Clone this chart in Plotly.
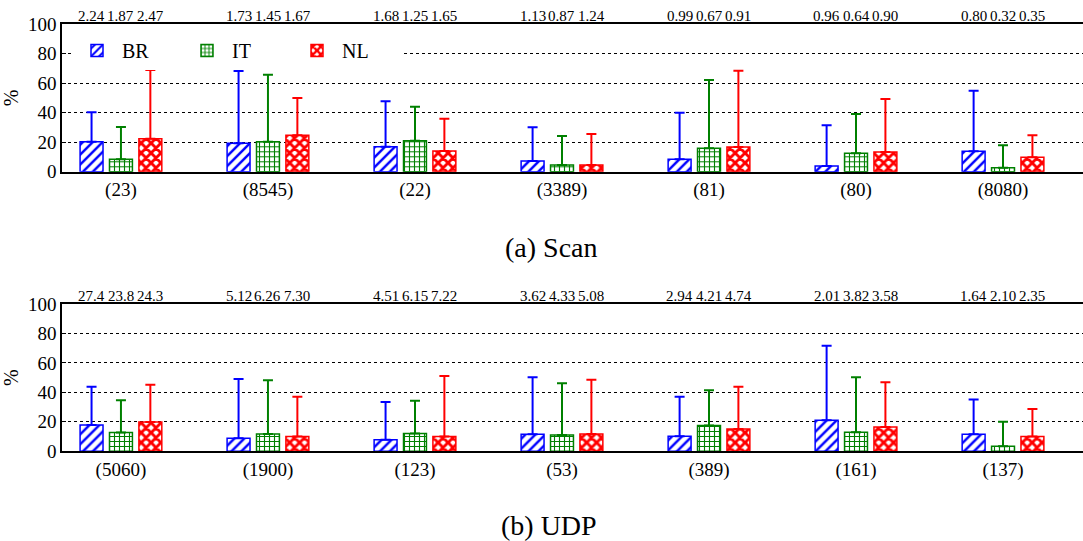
import plotly.graph_objects as go
import numpy as np

series = ["BR", "IT", "NL"]
colors = {"BR": "#0000ff", "IT": "#008000", "NL": "#ff0000"}
patterns = {"BR": dict(shape="/", size=7, solidity=0.35),
            "IT": dict(shape="+", size=5, solidity=0.4),
            "NL": dict(shape="x", size=7, solidity=0.65)}

# ---- (a) Scan ----
scan_ports = ["(23)", "(8545)", "(22)", "(3389)", "(81)", "(80)", "(8080)"]
scan_val = {
    "BR": [20.4, 19.3, 17.0, 7.3, 8.4, 3.9, 13.8],
    "IT": [8.4, 20.4, 21.0, 4.5, 15.9, 12.5, 2.7],
    "NL": [22.4, 24.7, 14.0, 4.5, 16.8, 13.4, 9.8],
}
scan_err = {
    "BR": [40.3, 68.3, 47.8, 30.1, 40.0, 31.5, 55.0],
    "IT": [30.3, 65.8, 44.1, 24.2, 62.2, 39.1, 17.9],
    "NL": [69.0, 50.0, 36.0, 25.6, 68.5, 49.3, 24.7],
}
scan_top = {
    "BR": ["2.24", "1.73", "1.68", "1.13", "0.99", "0.96", "0.80"],
    "IT": ["1.87", "1.45", "1.25", "0.87", "0.67", "0.64", "0.32"],
    "NL": ["2.47", "1.67", "1.65", "1.24", "0.91", "0.90", "0.35"],
}

# ---- (b) UDP ----
udp_ports = ["(5060)", "(1900)", "(123)", "(53)", "(389)", "(161)", "(137)"]
udp_val = {
    "BR": [17.9, 8.8, 7.9, 11.5, 10.2, 21.0, 11.5],
    "IT": [12.7, 11.8, 12.0, 11.1, 17.6, 12.9, 3.4],
    "NL": [19.9, 10.0, 10.0, 11.8, 15.2, 16.5, 10.0],
}
udp_err = {
    "BR": [43.9, 49.1, 33.5, 50.2, 37.1, 71.7, 35.1],
    "IT": [34.6, 48.2, 34.4, 46.2, 41.4, 50.2, 20.1],
    "NL": [45.2, 37.1, 51.1, 48.6, 43.9, 46.8, 28.7],
}
udp_top = {
    "BR": ["27.4", "5.12", "4.51", "3.62", "2.94", "2.01", "1.64"],
    "IT": ["23.8", "6.26", "6.15", "4.33", "4.21", "3.82", "2.10"],
    "NL": ["24.3", "7.30", "7.22", "5.08", "4.74", "3.58", "2.35"],
}

FONT = "Liberation Serif"
W, H = 1083, 541
fig = go.Figure()

panels = [
    (scan_ports, scan_val, scan_err, "x", "y", True),
    (udp_ports, udp_val, udp_err, "x2", "y2", False),
]
for ports, val, err, xa, ya, showleg in panels:
    xs = np.arange(len(ports))
    for s in series:
        v = np.array(val[s])
        e = np.array(err[s])
        fig.add_trace(go.Bar(
            x=xs, y=v, name=s, xaxis=xa, yaxis=ya,
            showlegend=showleg, legendgroup=s,
            marker=dict(color="white", line=dict(color=colors[s], width=1.5),
                        pattern=dict(fgcolor=colors[s], bgcolor="white",
                                     fillmode="replace", **patterns[s])),
            error_y=dict(type="data", symmetric=False, array=e - v,
                         arrayminus=np.zeros_like(v), color=colors[s],
                         thickness=2, width=5),
        ))

xdom = [62 / W, 1.0]
ydom_top = [1 - 171.7 / H, 1 - 24.3 / H]
ydom_bot = [1 - 451.3 / H, 1 - 304 / H]

def xaxis_cfg(ports, anchor):
    return dict(domain=xdom, range=[-0.401, 6.544], anchor=anchor, automargin=False,
                tickmode="array", tickvals=list(range(len(ports))), ticktext=ports,
                showline=True, linecolor="black", linewidth=1.5, mirror=True,
                ticks="", showgrid=False, zeroline=False,
                tickfont=dict(family=FONT, size=19, color="black"))

def yaxis_cfg(dom, anchor):
    return dict(domain=dom, range=[0, 100], anchor=anchor, automargin=False,
                tickvals=[0, 20, 40, 60, 80, 100],
                showline=True, linecolor="black", linewidth=1.5,
                ticks="inside", ticklen=4, tickcolor="black",
                showgrid=True, gridcolor="black", griddash="dot", gridwidth=1,
                zeroline=False,
                title=dict(text="%", font=dict(family=FONT, size=20, color="black"), standoff=8),
                tickfont=dict(family=FONT, size=19, color="black"))

annotations = []
for (ports, top, xr, ytext) in [(scan_ports, scan_top, "x", 1 - 16 / H), (udp_ports, udp_top, "x2", 1 - 296 / H)]:
    for j, s in enumerate(series):
        for i in range(len(ports)):
            annotations.append(dict(x=i + (j - 1) * 0.2, y=ytext, xref=xr, yref="paper",
                                    text=top[s][i], showarrow=False,
                                    font=dict(family=FONT, size=15, color="black"),
                                    xanchor="center", yanchor="middle"))

annotations.append(dict(x=551 / W, y=1 - 247 / H, xref="paper", yref="paper",
                        text="(a) Scan", showarrow=False, xanchor="center", yanchor="middle",
                        font=dict(family=FONT, size=28, color="black")))
annotations.append(dict(x=549 / W, y=1 - 525 / H, xref="paper", yref="paper",
                        text="(b) UDP", showarrow=False, xanchor="center", yanchor="middle",
                        font=dict(family=FONT, size=28, color="black")))

fig.update_layout(
    width=W, height=H,
    margin=dict(l=0, r=0, t=0, b=0),
    paper_bgcolor="white", plot_bgcolor="white",
    barmode="group", bargap=0.4, bargroupgap=0.22,
    xaxis=xaxis_cfg(scan_ports, "y"),
    yaxis=yaxis_cfg(ydom_top, "x"),
    xaxis2=xaxis_cfg(udp_ports, "y2"),
    yaxis2=yaxis_cfg(ydom_bot, "x2"),
    legend=dict(orientation="h", x=72 / W, y=1 - 31 / H, xanchor="left", yanchor="top",
                bgcolor="white", borderwidth=0, entrywidth=55, entrywidthmode="pixels",
                font=dict(family=FONT, size=20, color="black"), itemwidth=40),
    annotations=annotations,
    font=dict(family=FONT, color="black"),
)

fig.write_html("out.html", config={"displayModeBar": False},
               post_script="document.body.style.margin='0';document.body.style.overflow='hidden';")
